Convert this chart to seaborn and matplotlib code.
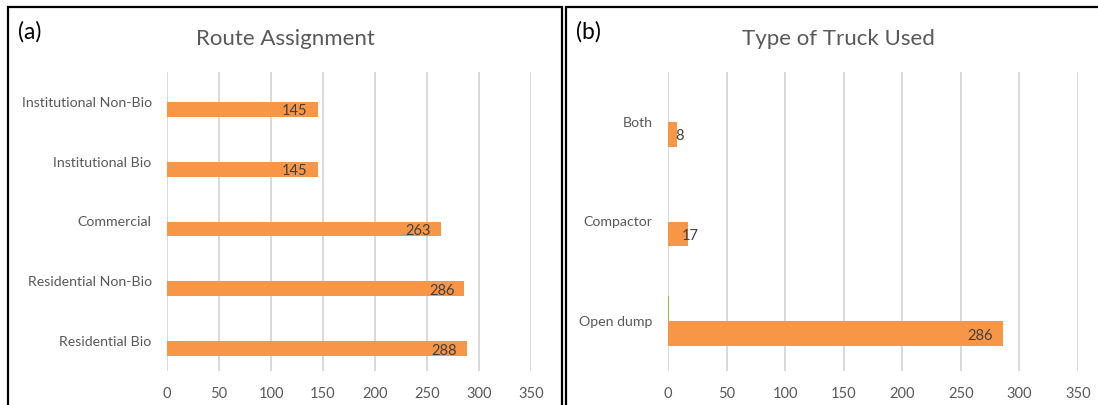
import matplotlib
matplotlib.use("Agg")
import matplotlib.pyplot as plt
from matplotlib.patches import Rectangle
import pandas as pd
import seaborn as sns

# Panel (a): route assignment
route_categories = ["Institutional Non-Bio", "Institutional Bio", "Commercial",
                    "Residential Non-Bio", "Residential Bio"]
route_counts = [145, 145, 263, 286, 288]
route_other = [0, 0, 0, 0, 0]

# Panel (b): type of truck used
truck_categories = ["Both", "Compactor", "Open dump"]
truck_counts = [8, 17, 286]
truck_other = [0, 0, 1]

x_ticks = [0, 50, 100, 150, 200, 250, 300, 350]

ORANGE = "#F79646"
GREEN = "#8DBB4E"
TEXT = "#595959"
LABEL = "#404040"
GRID = "#D9D9D9"

sns.set_theme(style="white")
plt.rcParams["font.family"] = ["Lato", "DejaVu Sans"]

W, H = 1098, 406
fig = plt.figure(figsize=(W / 100, H / 100), dpi=100)


def px_axes(x0, x1, y_top, y_bot):
    return fig.add_axes([x0 / W, 1 - y_bot / H, (x1 - x0) / W, (y_bot - y_top) / H])


def long_frame(categories, other, counts):
    return pd.DataFrame({
        "category": categories * 2,
        "series": ["other"] * len(categories) + ["count"] * len(categories),
        "value": list(other) + list(counts),
    })


def draw_panel(ax, categories, other, counts, other_color):
    df = long_frame(categories, other, counts)
    sns.barplot(data=df, x="value", y="category", hue="series",
                hue_order=["other", "count"], order=categories,
                palette={"other": other_color, "count": ORANGE},
                saturation=1, width=0.5, linewidth=0, orient="h",
                legend=False, ax=ax)
    ax.set_xlim(0, 350)
    ax.set_xticks(x_ticks)
    ax.set_xlabel("")
    ax.set_ylabel("")
    ax.xaxis.grid(True, color=GRID, linewidth=1.4)
    ax.yaxis.grid(False)
    ax.set_axisbelow(True)
    for s in ax.spines.values():
        s.set_visible(False)
    ax.tick_params(axis="x", length=0, pad=11, labelsize=10.5, labelcolor=TEXT)
    ax.tick_params(axis="y", length=0, pad=11, labelsize=10.2, labelcolor=TEXT)
    ax.set_yticks(range(len(categories)))
    ax.set_yticklabels(categories, va="center")
    # value labels on the orange series
    bars = ax.containers[1]
    for rect, v in zip(bars, counts):
        yc = rect.get_y() + rect.get_height() / 2
        if v >= 40:
            ax.annotate(str(v), (v, yc), xytext=(-10, -1), textcoords="offset pixels",
                        ha="right", va="center", fontsize=10.5, color=LABEL)
        else:
            ax.annotate(str(v), (v, yc), xytext=(2, -1), textcoords="offset pixels",
                        ha="center", va="center", fontsize=10.5, color=LABEL)


ax_a = px_axes(167, 531, 73, 372)
draw_panel(ax_a, route_categories, route_other, route_counts, "#4F81BD")

ax_b = px_axes(668, 1078, 73, 372)
draw_panel(ax_b, truck_categories, truck_other, truck_counts, GREEN)

# titles and panel letters
fig.text(285 / W, 1 - 39 / H, "Route Assignment", ha="center", va="center",
         fontsize=16, color=TEXT)
fig.text(838 / W, 1 - 39 / H, "Type of Truck Used", ha="center", va="center",
         fontsize=16, color=TEXT)
fig.text(18 / W, 1 - 32 / H, "(a)", ha="left", va="center", fontsize=16.5, color="black")
fig.text(576 / W, 1 - 32 / H, "(b)", ha="left", va="center", fontsize=16.5, color="black")

# panel frames
fig.add_artist(Rectangle((8 / W, -0.1), (562 - 8) / W, 1.1 - 8 / H,
                         transform=fig.transFigure, fill=False, edgecolor="black",
                         linewidth=1.6))
fig.add_artist(Rectangle((566 / W, -0.1), 0.6, 1.1 - 8 / H,
                         transform=fig.transFigure, fill=False, edgecolor="black",
                         linewidth=1.6))

fig.savefig("out.png", dpi=100)
